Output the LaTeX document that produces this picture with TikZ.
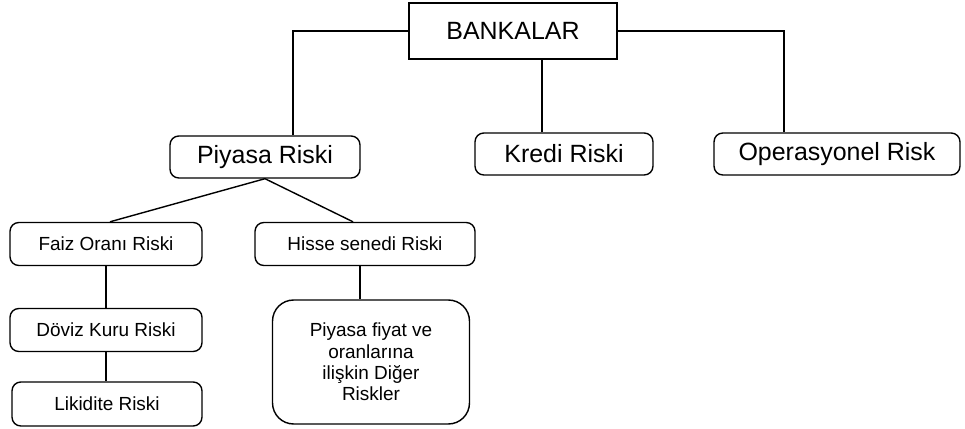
\documentclass[tikz,border=0pt]{standalone}
\usepackage{fontspec}
\setmainfont{Liberation Sans}
\usepackage{tikz}
\usetikzlibrary{positioning}
\usetikzlibrary{calc}

\tikzset{
	topbox/.style={draw, line width=0.8pt, minimum width=4.16cm, minimum height=1.12cm, font=\fontsize{14.2}{16}\selectfont},
	riskbox/.style={draw, line width=0.8pt, rounded corners=5pt, minimum height=0.84cm, font=\fontsize{14.2}{16}\selectfont},
	subbox/.style={draw, line width=0.8pt, rounded corners=5pt, minimum height=0.86cm, font=\fontsize{10.8}{12}\selectfont},
	tallbox/.style={draw, line width=0.8pt, rounded corners=12pt, minimum width=3.94cm, minimum height=2.48cm, align=center, font=\fontsize{10.8}{12.2}\selectfont},
	link/.style={line width=0.8pt}
}

\begin{document}
\begin{tikzpicture}[x=0.02cm, y=-0.02cm]
			\useasboundingbox (0,0) rectangle (965,429);

			% Top of the tree
			\node[topbox] (bank) at (513,31) {BANKALAR};

			% Main risk groups
			\node[riskbox, minimum width=3.8cm] (piyasa) at (265,157) {Piyasa Riski};
			\node[riskbox, minimum width=3.56cm] (kredi) at (564,154) {Kredi Riski};
			\node[riskbox, minimum width=4.92cm] (oper) at (837,154) {Operasyonel Risk};

			% Market risk items
			\node[subbox, minimum width=3.84cm] (faiz) at (106,244) {Faiz Oranı Riski};
			\node[subbox, minimum width=4.4cm] (hisse) at (365,244) {Hisse senedi Riski};
			\node[subbox, minimum width=3.84cm] (doviz) at (106,330) {Döviz Kuru Riski};
			\node[subbox, minimum width=3.8cm, minimum height=0.88cm] (likidite) at (107,404) {Likidite Riski};
			\node[tallbox] (diger) at (371,362) {Piyasa fiyat ve\\oranlarına\\ilişkin Diğer\\Riskler};

			% Connectors from the top box
			\draw[link] (bank.west) -| ([xshift=0.56cm]piyasa.north);
			\draw[link] (bank.east) -| ([xshift=-1.06cm]oper.north);
			\draw[link] ([xshift=-0.44cm]kredi.north) -- ([xshift=-0.44cm]kredi.north |- bank.south);

			% Connectors below the market risk
			\draw[link] (piyasa.south) -- ([xshift=0.08cm]faiz.north);
			\draw[link] (piyasa.south) -- ([xshift=-0.24cm]hisse.north);
			\draw[link] (faiz.south) -- (doviz.north);
			\draw[link] (doviz.south) -- (doviz.south |- likidite.north);
			\draw[link] ([xshift=-0.1cm]hisse.south) -- ([xshift=-0.1cm]hisse.south |- diger.north);

		\end{tikzpicture}
\end{document}
